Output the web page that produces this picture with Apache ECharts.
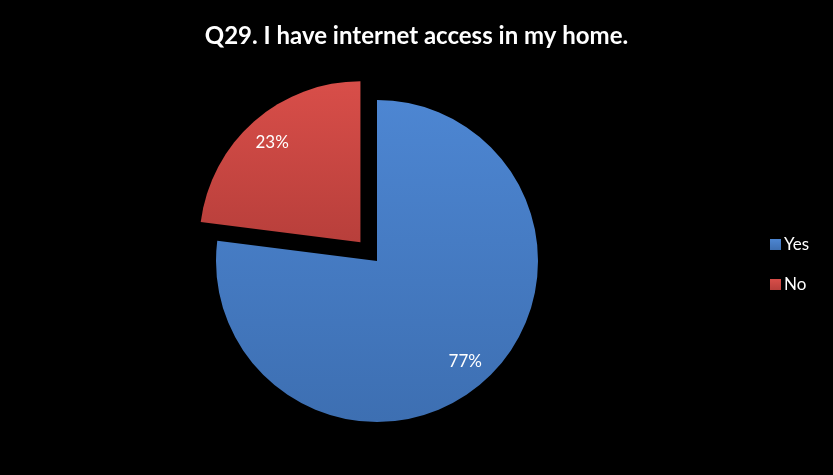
<!DOCTYPE html>
<html>
<head>
<meta charset="utf-8">
<script src="https://cdn.jsdelivr.net/npm/echarts@6/dist/echarts.min.js"></script>
<style>
  html, body { margin: 0; padding: 0; background: #000; }
  #chart { width: 833px; height: 475px; }
</style>
</head>
<body>
<div id="chart"></div>
<script>
// Survey answers and their shares (percent)
const categories = ['Yes', 'No'];
const shares = [77, 23];
const explodedAnswers = ['No'];

const fills = {
  Yes: new echarts.graphic.LinearGradient(0, 0, 0, 1, [
    { offset: 0, color: '#4D86D2' },
    { offset: 1, color: '#3D6FB2' }
  ]),
  No: new echarts.graphic.LinearGradient(0, 0, 0, 1, [
    { offset: 0, color: '#D84E49' },
    { offset: 1, color: '#B83F3B' }
  ])
};
const legendColors = { Yes: '#4A7FC6', No: '#C8453F' };

const center = [377, 261];
const outer = 161;

function slices(withFill) {
  return categories.map((name, i) => ({
    name,
    value: shares[i],
    selected: explodedAnswers.includes(name),
    itemStyle: withFill
      ? { color: fills[name], borderColor: 'rgba(0,0,0,0)', borderWidth: 0 }
      : { color: 'rgba(0,0,0,0)' }
  }));
}

const chart = echarts.init(document.getElementById('chart'), null, { renderer: 'canvas' });
chart.setOption({
  backgroundColor: '#000',
  animation: false,
  color: categories.map(c => legendColors[c]),
  title: {
    text: 'Q29. I have internet access in my home.',
    left: 'center',
    top: 19,
    textStyle: { color: '#fff', fontFamily: 'Lato', fontWeight: 'bold', fontSize: 24 }
  },
  legend: {
    orient: 'vertical',
    left: 765,
    top: 231,
    itemWidth: 11,
    itemHeight: 11,
    itemGap: 23,
    icon: 'rect',
    selectedMode: false,
    data: categories,
    textStyle: { color: '#fff', fontFamily: 'Lato', fontSize: 17, padding: [0, 0, 0, -2] }
  },
  series: [
    {
      name: 'answers',
      type: 'pie',
      center: center,
      radius: [0, outer],
      startAngle: 90,
      clockwise: true,
      selectedMode: 'single',
      selectedOffset: 25,
      silent: true,
      label: { show: false },
      labelLine: { show: false },
      emphasis: { disabled: true },
      data: slices(true)
    },
    {
      // transparent ring carrying the percentage labels further out
      name: 'labels',
      type: 'pie',
      center: center,
      radius: [100, outer],
      startAngle: 90,
      clockwise: true,
      selectedMode: 'single',
      selectedOffset: 25,
      silent: true,
      legendHoverLink: false,
      label: {
        show: true,
        position: 'inside',
        formatter: p => p.value + '%',
        color: '#fff',
        fontFamily: 'Lato',
        fontSize: 17
      },
      labelLine: { show: false },
      emphasis: { disabled: true },
      data: slices(false)
    }
  ]
});
</script>
</body>
</html>
